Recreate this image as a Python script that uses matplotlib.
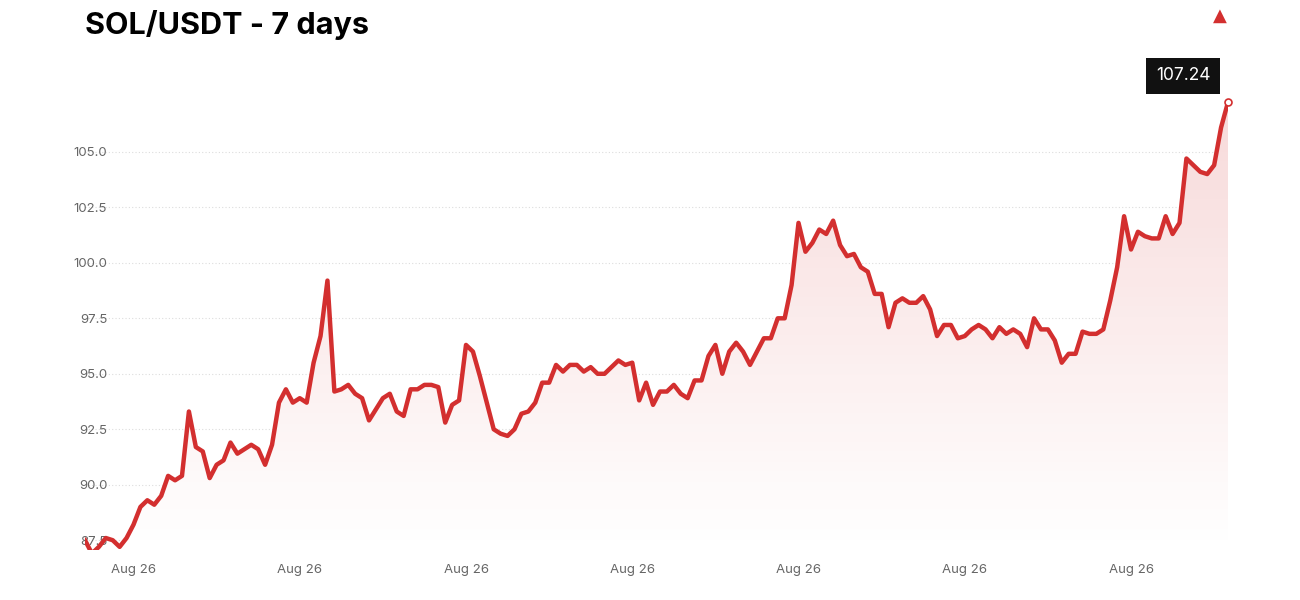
import numpy as np
import matplotlib
matplotlib.use("Agg")
import matplotlib.pyplot as plt
from matplotlib.patches import Polygon

plt.rcParams["font.family"] = ["Inter", "DejaVu Sans"]

title = "SOL/USDT - 7 days"
last_label = "107.24"
tick_label = "Aug 26"
y_ticks = [87.5, 90.0, 92.5, 95.0, 97.5, 100.0, 102.5, 105.0]

prices = [
    87.5, 86.9, 87.2, 87.6, 87.5, 87.2, 87.6, 88.2, 89.0, 89.3,
    89.1, 89.5, 90.4, 90.2, 90.4, 93.3, 91.7, 91.5, 90.3, 90.9,
    91.1, 91.9, 91.4, 91.6, 91.8, 91.6, 90.9, 91.8, 93.7, 94.3,
    93.7, 93.9, 93.7, 95.5, 96.7, 99.2, 94.2, 94.3, 94.5, 94.1,
    93.9, 92.9, 93.4, 93.9, 94.1, 93.3, 93.1, 94.3, 94.3, 94.5,
    94.5, 94.4, 92.8, 93.6, 93.8, 96.3, 96.0, 94.9, 93.7, 92.5,
    92.3, 92.2, 92.5, 93.2, 93.3, 93.7, 94.6, 94.6, 95.4, 95.1,
    95.4, 95.4, 95.1, 95.3, 95.0, 95.0, 95.3, 95.6, 95.4, 95.5,
    93.8, 94.6, 93.6, 94.2, 94.2, 94.5, 94.1, 93.9, 94.7, 94.7,
    95.8, 96.3, 95.0, 96.0, 96.4, 96.0, 95.4, 96.0, 96.6, 96.6,
    97.5, 97.5, 99.0, 101.8, 100.5, 100.9, 101.5, 101.3, 101.9, 100.8,
    100.3, 100.4, 99.8, 99.6, 98.6, 98.6, 97.1, 98.2, 98.4, 98.2,
    98.2, 98.5, 97.9, 96.7, 97.2, 97.2, 96.6, 96.7, 97.0, 97.2,
    97.0, 96.6, 97.1, 96.8, 97.0, 96.8, 96.2, 97.5, 97.0, 97.0,
    96.5, 95.5, 95.9, 95.9, 96.9, 96.8, 96.8, 97.0, 98.3, 99.8,
    102.1, 100.6, 101.4, 101.2, 101.1, 101.1, 102.1, 101.3, 101.8, 104.7,
    104.4, 104.1, 104.0, 104.4, 106.1, 107.24,
]

red = "#d32f2f"
x = np.arange(len(prices))
y = np.array(prices)
ymin, ymax = 87.05, 109.6

fig = plt.figure(figsize=(13, 6), dpi=100)
ax = fig.add_axes([85 / 1300, 0.083, (1228 - 85) / 1300, 0.834])
ax.set_xlim(0, len(prices) - 1)
ax.set_ylim(ymin, ymax)

# gradient fill under the line
grad = np.linspace(0.18, 0.0, 256).reshape(-1, 1)
cmap = matplotlib.colors.LinearSegmentedColormap.from_list("g", [(1, 1, 1), (0.83, 0.18, 0.18)])
im = ax.imshow(grad, extent=[0, len(prices) - 1, ymin, y.max()], aspect="auto",
               cmap=cmap, vmin=0, vmax=1, origin="upper", zorder=1)
poly = Polygon(np.column_stack([np.r_[x, x[-1], x[0]], np.r_[y, ymin, ymin]]),
               closed=True, transform=ax.transData, facecolor="none", edgecolor="none")
ax.add_patch(poly)
im.set_clip_path(poly)

ax.plot(x, y, color=red, lw=3.2, solid_joinstyle="round", zorder=3)
ax.plot(x[-1], y[-1], "o", ms=5, color="white", mec=red, mew=1.2, zorder=4, clip_on=False)

for v in y_ticks:
    ax.axhline(v, color="#dddddd", lw=0.8, ls=(0, (1, 2)), zorder=0)
ax.set_yticks(y_ticks)
ax.set_yticklabels([f"{v:.1f}" for v in y_ticks])
ax.tick_params(axis="y", length=0, pad=-16, labelsize=9.5, labelcolor="#666666")

xt = [7 + 24 * i for i in range(7)]
ax.set_xticks(xt)
ax.set_xticklabels([tick_label] * len(xt))
ax.tick_params(axis="x", length=0, pad=10, labelsize=9.5, labelcolor="#666666")

for s in ax.spines.values():
    s.set_visible(False)

fig.text(85 / 1300, 1 - 25 / 600, title, fontsize=22, fontweight="bold", va="center", ha="left")
fig.text(1220 / 1300, 1 - 16 / 600, "▲", color=red, fontsize=13, ha="center", va="center",
         family=["DejaVu Sans"])
fig.text(1183 / 1300, 1 - 76 / 600, last_label, color="white", fontsize=12.5, ha="center", va="center",
         bbox=dict(boxstyle="square,pad=0.55", fc="#111111", ec="none"))

fig.savefig("out.png", dpi=100)
